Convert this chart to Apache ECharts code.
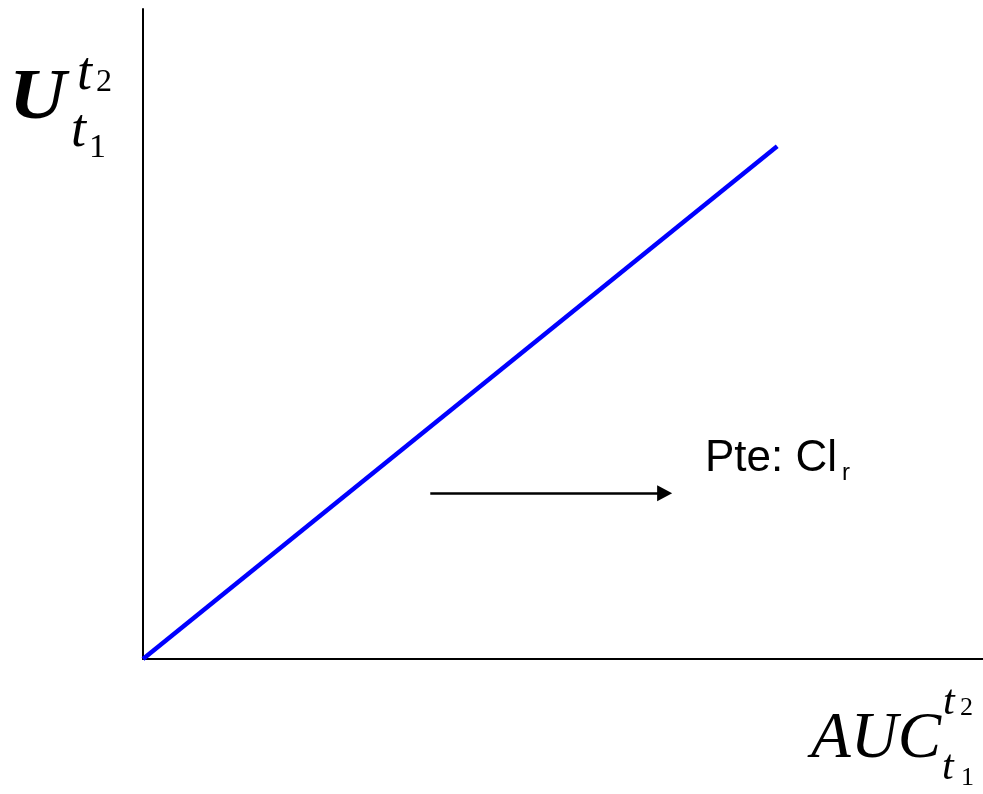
<!DOCTYPE html>
<html>
<head>
<meta charset="utf-8">
<script src="https://cdn.jsdelivr.net/npm/echarts@6/dist/echarts.min.js"></script>
<style>
html,body{margin:0;padding:0;background:#fff;}
#chart{width:983px;height:794px;}
</style>
</head>
<body>
<div id="chart"></div>
<script>
// Axis ranges (unitless schematic axes)
const xLimits = [0, 10];
const yLimits = [0, 10];
// Blue line: U vs AUC
const lineX = [0, 7.55];
const lineY = [0, 7.89];
// Arrow annotation (start, end-centre of head)
const arrowX = [3.42, 6.21];
const arrowY = [2.55, 2.55];
// Text labels
const arrowText = 'Pte: Cl';
const arrowSub = 'r';

const chart = echarts.init(document.getElementById('chart'), null, {renderer: 'canvas'});

const SERIF = '"Liberation Serif", "Times New Roman", serif';
const SANS = '"Liberation Sans", Arial, sans-serif';
function piece(text, x, baseline, size, family, fstyle, sx) {
  return {
    type: 'text', x: x, y: baseline - 0.34 * size, silent: true,
    scaleX: sx || 1,
    style: {
      text: text, font: fstyle + ' ' + size + 'px ' + family, fill: '#000',
      align: 'left', verticalAlign: 'middle', textAlign: 'left', textVerticalAlign: 'middle'
    }
  };
}

const option = {
  animation: false,
  backgroundColor: '#fff',
  grid: {left: 143, right: 0, top: 9, bottom: 135},
  xAxis: {
    type: 'value', min: xLimits[0], max: xLimits[1],
    axisLine: {show: true, onZero: false, lineStyle: {color: '#000', width: 2}},
    axisTick: {show: false}, axisLabel: {show: false}, splitLine: {show: false}
  },
  yAxis: {
    type: 'value', min: yLimits[0], max: yLimits[1],
    axisLine: {show: true, onZero: false, lineStyle: {color: '#000', width: 2}},
    axisTick: {show: false}, axisLabel: {show: false}, splitLine: {show: false}
  },
  series: [{
    type: 'line',
    data: lineX.map((x, i) => [x, lineY[i]]),
    symbol: 'none',
    lineStyle: {color: '#0000FF', width: 4.5},
    markLine: {
      silent: true,
      symbol: ['none', 'triangle'],
      symbolSize: [16, 15],
      label: {show: false},
      lineStyle: {color: '#000', width: 2.5, type: 'solid'},
      data: [[{coord: [arrowX[0], arrowY[0]]}, {coord: [arrowX[1], arrowY[1]]}]]
    }
  }],
  graphic: [
    // Y-axis label U_{t1}^{t2}
    piece('U', 9, 124, 72, SERIF, 'italic bold', 1.1),
    piece('t', 77, 93, 54, SERIF, 'italic'),
    piece('2', 96, 93, 32, SERIF, 'normal'),
    piece('t', 71, 150, 54, SERIF, 'italic'),
    piece('1', 89, 160, 34, SERIF, 'normal'),
    // X-axis label AUC_{t1}^{t2}
    piece('AUC', 811, 762, 65, SERIF, 'italic'),
    piece('t', 943, 717, 42, SERIF, 'italic'),
    piece('2', 960, 717, 26, SERIF, 'normal'),
    piece('t', 942, 782, 42, SERIF, 'italic'),
    piece('1', 961, 787, 26, SERIF, 'normal'),
    // Arrow annotation text
    piece(arrowText, 705, 474, 44, SANS, 'normal'),
    piece(arrowSub, 842, 482, 24, SANS, 'normal')
  ]
};
chart.setOption(option);
</script>
</body>
</html>
